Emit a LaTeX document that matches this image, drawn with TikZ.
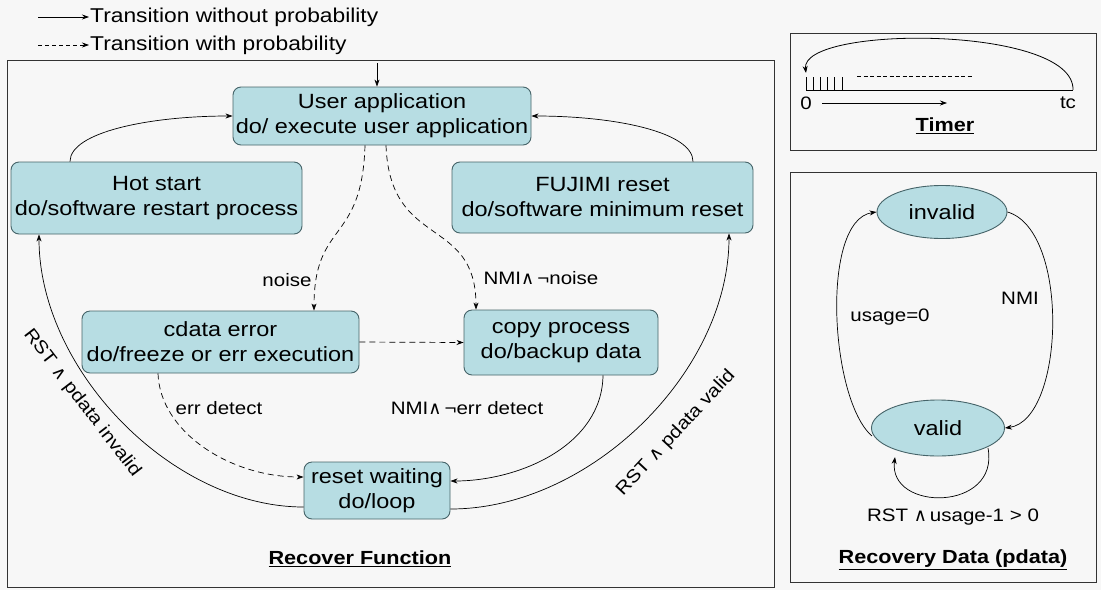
\documentclass[tikz,border=0pt]{standalone}
\usepackage{fontspec}
\setmainfont{Liberation Sans}[FakeStretch=1.14]
\newfontfamily\symf{DejaVu Sans}
\usetikzlibrary{arrows.meta,calc,shapes.geometric}
\newcommand{\wand}{{\symf\char"2227}}
\definecolor{nodefill}{RGB}{183,221,227}
\definecolor{nodeline}{RGB}{70,100,105}
\definecolor{bgc}{RGB}{247,247,247}
\tikzset{
  every picture/.style={x=1pt,y=1pt},
  state/.style={draw=nodeline, line width=0.9pt, fill=nodefill, rounded corners=8pt,
    align=center, inner sep=0pt, font=\fontsize{20.6}{25}\selectfont},
  ell/.style={draw=nodeline, line width=0.9pt, fill=nodefill, ellipse, inner sep=0pt,
    font=\fontsize{20.6}{25}\selectfont},
  tr/.style={line width=0.7pt, -{Stealth[length=7pt,width=5pt]}},
  ptr/.style={tr, dash pattern=on 6pt off 4pt},
  lbl/.style={font=\fontsize{18}{21}\selectfont, inner sep=1pt},
  ttl/.style={font=\bfseries\fontsize{19}{22}\selectfont, inner sep=1pt},
  frame/.style={draw=black!80, line width=0.9pt}
}
\begin{document}
\begin{tikzpicture}
\fill[bgc] (0,0) rectangle (1101,-590);
\useasboundingbox (0,0) rectangle (1101,-590);

% legend
\coordinate (l1a) at (38,-17); \coordinate (l1b) at (89,-17);
\coordinate (l2a) at (38,-45); \coordinate (l2b) at (89,-45);
\draw[tr] (l1a) -- (l1b);
\draw[ptr, dash pattern=on 4pt off 3pt] (l2a) -- (l2b);
\node[anchor=west, inner sep=1pt, font=\fontsize{20}{24}\selectfont] (lt1) at (89,-17) {Transition without probability};
\node[anchor=west, inner sep=1pt, font=\fontsize{20}{24}\selectfont] (lt2) at (89,-45) {Transition with probability};

% frames
\draw[frame] (7,-60) rectangle (774,-587);
\draw[frame] (790,-33) rectangle (1096,-150);
\draw[frame] (790,-172) rectangle (1096,-582);

% main states
\node[state, minimum width=298pt, minimum height=58pt] (ua) at (382,-116) {User application\\do/ execute user application};
\node[state, minimum width=291pt, minimum height=72pt] (hot) at (156.5,-198) {Hot start\\do/software restart process};
\node[state, minimum width=301pt, minimum height=71pt] (fuj) at (602.5,-197.5) {FUJIMI reset\\do/software minimum reset};
\node[state, minimum width=277pt, minimum height=62pt] (cde) at (220.5,-342) {cdata error\\do/freeze or err execution};
\node[state, minimum width=194pt, minimum height=65pt] (cop) at (561,-342.5) {copy process\\do/backup data};
\node[state, minimum width=146pt, minimum height=57pt] (rw) at (377,-490.5) {reset waiting\\do/loop};

% initial arrow
\coordinate (init) at (377,-63);
\draw[tr] (init) -- (init |- ua.north);

% hot -> ua, fuj -> ua
\draw[tr] (70,0 |- hot.north) .. controls (70,-132) and (150,-116) .. (ua.west);
\draw[tr] (693,0 |- fuj.north) .. controls (693,-132) and (615,-116) .. (ua.east);

% ua -> cde, ua -> cop (dashed)
\draw[ptr] (365,0 |- ua.south) .. controls (362,-245) and (314,-220) .. (314,0 |- cde.north);
\draw[ptr] (386,0 |- ua.south) .. controls (390,-250) and (476,-215) .. (476,0 |- cop.north);
\node[lbl] (lnoise) at (287,-280) {noise};
\node[lbl] (lnmi) at (541,-278) {NMI\wand\,¬noise};

% cde -> cop
\draw[ptr] (cde.east) -- (cop.west);

% cde -> rw
\draw[ptr] (158,0 |- cde.south) .. controls (160,-432) and (230,-477) .. (rw.west |- 0,-477);
\node[lbl] (lerr) at (219,-408) {err detect};

% cop -> rw
\draw[tr] (603,0 |- cop.south) .. controls (602,-445) and (520,-481) .. (rw.east |- 0,-481);
\node[lbl] (lnmierr) at (467,-408) {NMI\wand\,¬err detect};

% rw -> hot, rw -> fuj
\draw[tr] (rw.west |- 0,-507) .. controls (172,-507) and (39,-370) .. (39,0 |- hot.south);
\draw[tr] (rw.east |- 0,-509) .. controls (590,-509) and (729,-372) .. (729,0 |- fuj.south);
\node[lbl, rotate=-52.5] (linv) at (82,-403) {RST \wand\ pdata invalid};
\node[lbl, rotate=47] (lval) at (676,-433) {RST \wand\ pdata valid};

\node[ttl] (trf) at (360,-559) {\underline{Recover Function}};

% Timer
\coordinate (t0) at (806,-90); \coordinate (tc) at (1073,-90);
\draw[line width=0.8pt] (t0) -- (tc);
\draw[tr, line width=0.8pt] (tc) .. controls (1075,-25) and (800,-25) .. (806,-73);
\foreach \xx in {806,813,820,827,834,842} \draw[line width=0.7pt] (\xx,-77) -- (\xx,-90);
\draw[line width=0.7pt, dash pattern=on 4pt off 2.5pt] (857,-76) -- (972,-76);
\node[lbl, font=\fontsize{18}{20}\selectfont] (z0) at (806,-103) {0};
\node[lbl, font=\fontsize{18}{20}\selectfont] (ztc) at (1068,-103) {tc};
\coordinate (ta) at (822,-103); \coordinate (tb) at (947,-103);
\draw[tr] (ta) -- (tb);
\node[ttl] (ttimer) at (945,-126) {\underline{Timer}};

% Recovery data
\node[ell, minimum width=130pt, minimum height=53pt] (inv) at (942,-212) {invalid};
\node[ell, minimum width=133pt, minimum height=56pt] (val) at (938,-428) {valid};
\draw[tr] (872,-436) .. controls (830,-400) and (820,-220) .. (inv.west);
\draw[tr] (inv.east) .. controls (1070,-230) and (1065,-420) .. (val.east);
\draw[tr] (988,-448) .. controls (1000,-512) and (888,-512) .. (895,-457);
\node[lbl] (lus) at (890,-317) {usage=0};
\node[lbl] (lnm) at (1020,-298) {NMI};
\node[lbl] (lrst) at (953,-517) {RST \wand\,usage-1 {>} 0};
\node[ttl] (trd) at (953,-560) {\underline{Recovery Data (pdata)}};
\end{tikzpicture}
\end{document}
